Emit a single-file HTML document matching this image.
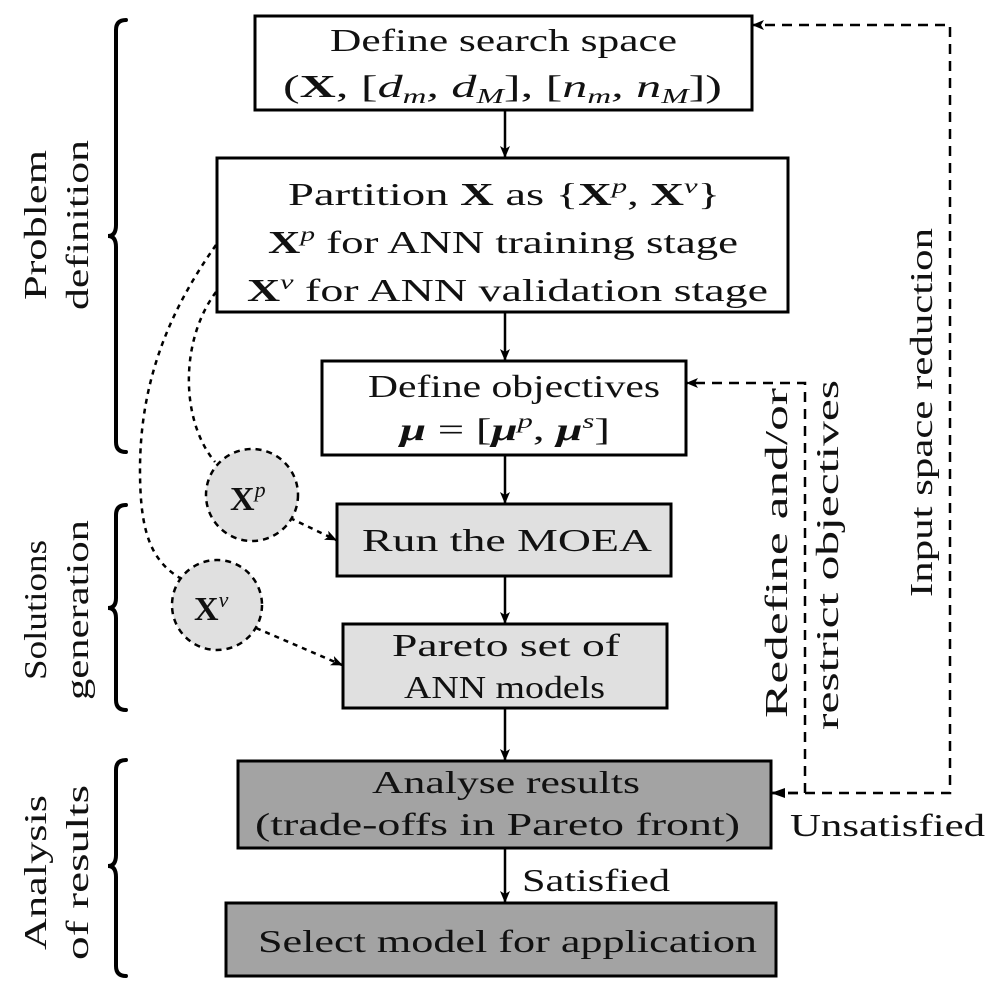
<!DOCTYPE html>
<html><head><meta charset="utf-8"><style>
html,body{margin:0;padding:0;background:#fff;}
svg{display:block;}
text{font-family:"Liberation Serif","DejaVu Serif",serif;fill:#111;}
.b{font-weight:bold;}
.i{font-style:italic;}
</style></head><body>
<svg width="1001" height="1000" viewBox="0 0 1001 1000" xmlns="http://www.w3.org/2000/svg">
<defs>
<marker id="ah" markerWidth="12" markerHeight="10" refX="11" refY="5" orient="auto" markerUnits="userSpaceOnUse">
<path d="M0,0 L12,5 L0,10 L3,5 Z" fill="#000"/></marker>
</defs>
<g stroke="#000" stroke-width="3" fill="#fff">
<rect x="255" y="16" width="497" height="94"/>
<rect x="217" y="158" width="571" height="154"/>
<rect x="322" y="361" width="364" height="94"/>
<rect x="337" y="504" width="334" height="72" fill="#e0e0e0"/>
<rect x="343" y="624" width="324" height="84" fill="#e0e0e0"/>
<rect x="238" y="761" width="533" height="87" fill="#a3a3a3"/>
<rect x="226" y="903" width="550" height="73" fill="#a3a3a3"/>
</g>
<g stroke="#000" stroke-width="2.5" fill="none" marker-end="url(#ah)">
<line x1="505" y1="110" x2="505" y2="157"/>
<line x1="505" y1="312" x2="505" y2="360"/>
<line x1="505" y1="455" x2="505" y2="503"/>
<line x1="505" y1="576" x2="505" y2="623"/>
<line x1="505" y1="708" x2="505" y2="760"/>
<line x1="505" y1="848" x2="505" y2="902"/>
</g>
<g stroke="#000" stroke-width="2.5" fill="none" stroke-dasharray="10,7">
<polyline points="771,793 950,793 950,25 753,25" marker-end="url(#ah)"/>
<polyline points="771,793 805,793 805,383 687,383" marker-end="url(#ah)"/>
</g>
<path d="M771,793 L785,788 L785,798 Z" fill="#000"/>
<g stroke="#000" stroke-width="2.5" fill="none" stroke-dasharray="5,5">
<path d="M216,245 C170,310 140,380 140,470 C140,530 150,560 180,578"/>
<path d="M216,292 C180,340 180,420 215,462"/>
<path d="M290,518 L336,540" marker-end="url(#ah)"/>
<path d="M256,628 L342,665" marker-end="url(#ah)"/>
</g>
<g stroke="#000" stroke-width="2.5" fill="#e0e0e0" stroke-dasharray="6,5">
<circle cx="252" cy="495" r="46"/>
<circle cx="217" cy="605" r="45"/>
</g>
<g stroke="#000" stroke-width="4" fill="none" stroke-linecap="round">
<path d="M126,20 Q116,20 116,30 L116,225 Q116,236 108,236 Q116,236 116,247 L116,442 Q116,452 126,452"/>
<path d="M126,505 Q116,505 116,515 L116,598 Q116,608 108,608 Q116,608 116,618 L116,700 Q116,710 126,710"/>
<path d="M126,760 Q116,760 116,770 L116,855 Q116,866 108,866 Q116,866 116,877 L116,966 Q116,976 126,976"/>
</g>
<g font-size="32" font-family="Liberation Serif, DejaVu Serif, serif">
<text x="330" y="51" textLength="347" lengthAdjust="spacingAndGlyphs">Define search space</text>
<text x="283" y="97" textLength="439" lengthAdjust="spacingAndGlyphs">(<tspan class="b">X</tspan>, [<tspan class="i">d<tspan font-size="21" dy="6">m</tspan><tspan dy="-6">, d</tspan><tspan font-size="21" dy="6">M</tspan></tspan><tspan dy="-6">], [</tspan><tspan class="i">n<tspan font-size="21" dy="6">m</tspan><tspan dy="-6">, n</tspan><tspan font-size="21" dy="6">M</tspan></tspan><tspan dy="-6">])</tspan></text>
<text x="288" y="205" textLength="432" lengthAdjust="spacingAndGlyphs">Partition <tspan class="b">X</tspan> as {<tspan class="b">X</tspan><tspan class="i" font-size="21" dy="-12">p</tspan><tspan dy="12">, </tspan><tspan class="b">X</tspan><tspan class="i" font-size="21" dy="-12">v</tspan><tspan dy="12">}</tspan></text>
<text x="268" y="253" textLength="470" lengthAdjust="spacingAndGlyphs"><tspan class="b">X</tspan><tspan class="i" font-size="21" dy="-12">p</tspan><tspan dy="12"> for ANN training stage</tspan></text>
<text x="247" y="301" textLength="521" lengthAdjust="spacingAndGlyphs"><tspan class="b">X</tspan><tspan class="i" font-size="21" dy="-12">v</tspan><tspan dy="12"> for ANN validation stage</tspan></text>
<text x="368" y="397" textLength="292" lengthAdjust="spacingAndGlyphs">Define objectives</text>
<text x="400" y="440" textLength="210" lengthAdjust="spacingAndGlyphs"><tspan class="b i">μ</tspan> = [<tspan class="b i">μ</tspan><tspan class="i" font-size="21" dy="-12">p</tspan><tspan dy="12">, </tspan><tspan class="b i">μ</tspan><tspan class="i" font-size="21" dy="-12">s</tspan><tspan dy="12">]</tspan></text>
<text x="362" y="551" textLength="290" lengthAdjust="spacingAndGlyphs">Run the MOEA</text>
<text x="392" y="656" textLength="228" lengthAdjust="spacingAndGlyphs">Pareto set of</text>
<text x="404" y="698" textLength="201" lengthAdjust="spacingAndGlyphs">ANN models</text>
<text x="372" y="793" textLength="268" lengthAdjust="spacingAndGlyphs">Analyse results</text>
<text x="255" y="835" textLength="485" lengthAdjust="spacingAndGlyphs">(trade-offs in Pareto front)</text>
<text x="258" y="952" textLength="499" lengthAdjust="spacingAndGlyphs">Select model for application</text>
<text x="230" y="510" font-size="34"><tspan class="b">X</tspan><tspan class="i" font-size="22" dy="-13">p</tspan></text>
<text x="194" y="620" font-size="34"><tspan class="b">X</tspan><tspan class="i" font-size="22" dy="-13">v</tspan></text>
<text x="790" y="836" textLength="195" lengthAdjust="spacingAndGlyphs">Unsatisfied</text>
<text x="522" y="891" textLength="148" lengthAdjust="spacingAndGlyphs">Satisfied</text>
<text transform="translate(46,300) rotate(-90)" textLength="150" lengthAdjust="spacingAndGlyphs">Problem</text>
<text transform="translate(88,310) rotate(-90)" textLength="170" lengthAdjust="spacingAndGlyphs">definition</text>
<text transform="translate(46,680) rotate(-90)" textLength="140" lengthAdjust="spacingAndGlyphs">Solutions</text>
<text transform="translate(88,700) rotate(-90)" textLength="180" lengthAdjust="spacingAndGlyphs">generation</text>
<text transform="translate(46,950) rotate(-90)" textLength="155" lengthAdjust="spacingAndGlyphs">Analysis</text>
<text transform="translate(88,960) rotate(-90)" textLength="175" lengthAdjust="spacingAndGlyphs">of results</text>
<text transform="translate(787,718) rotate(-90)" textLength="330" lengthAdjust="spacingAndGlyphs">Redefine and/or</text>
<text transform="translate(838,730) rotate(-90)" textLength="350" lengthAdjust="spacingAndGlyphs">restrict objectives</text>
<text transform="translate(932,597) rotate(-90)" textLength="369" lengthAdjust="spacingAndGlyphs">Input space reduction</text>
</g>
</svg>
</body></html>
